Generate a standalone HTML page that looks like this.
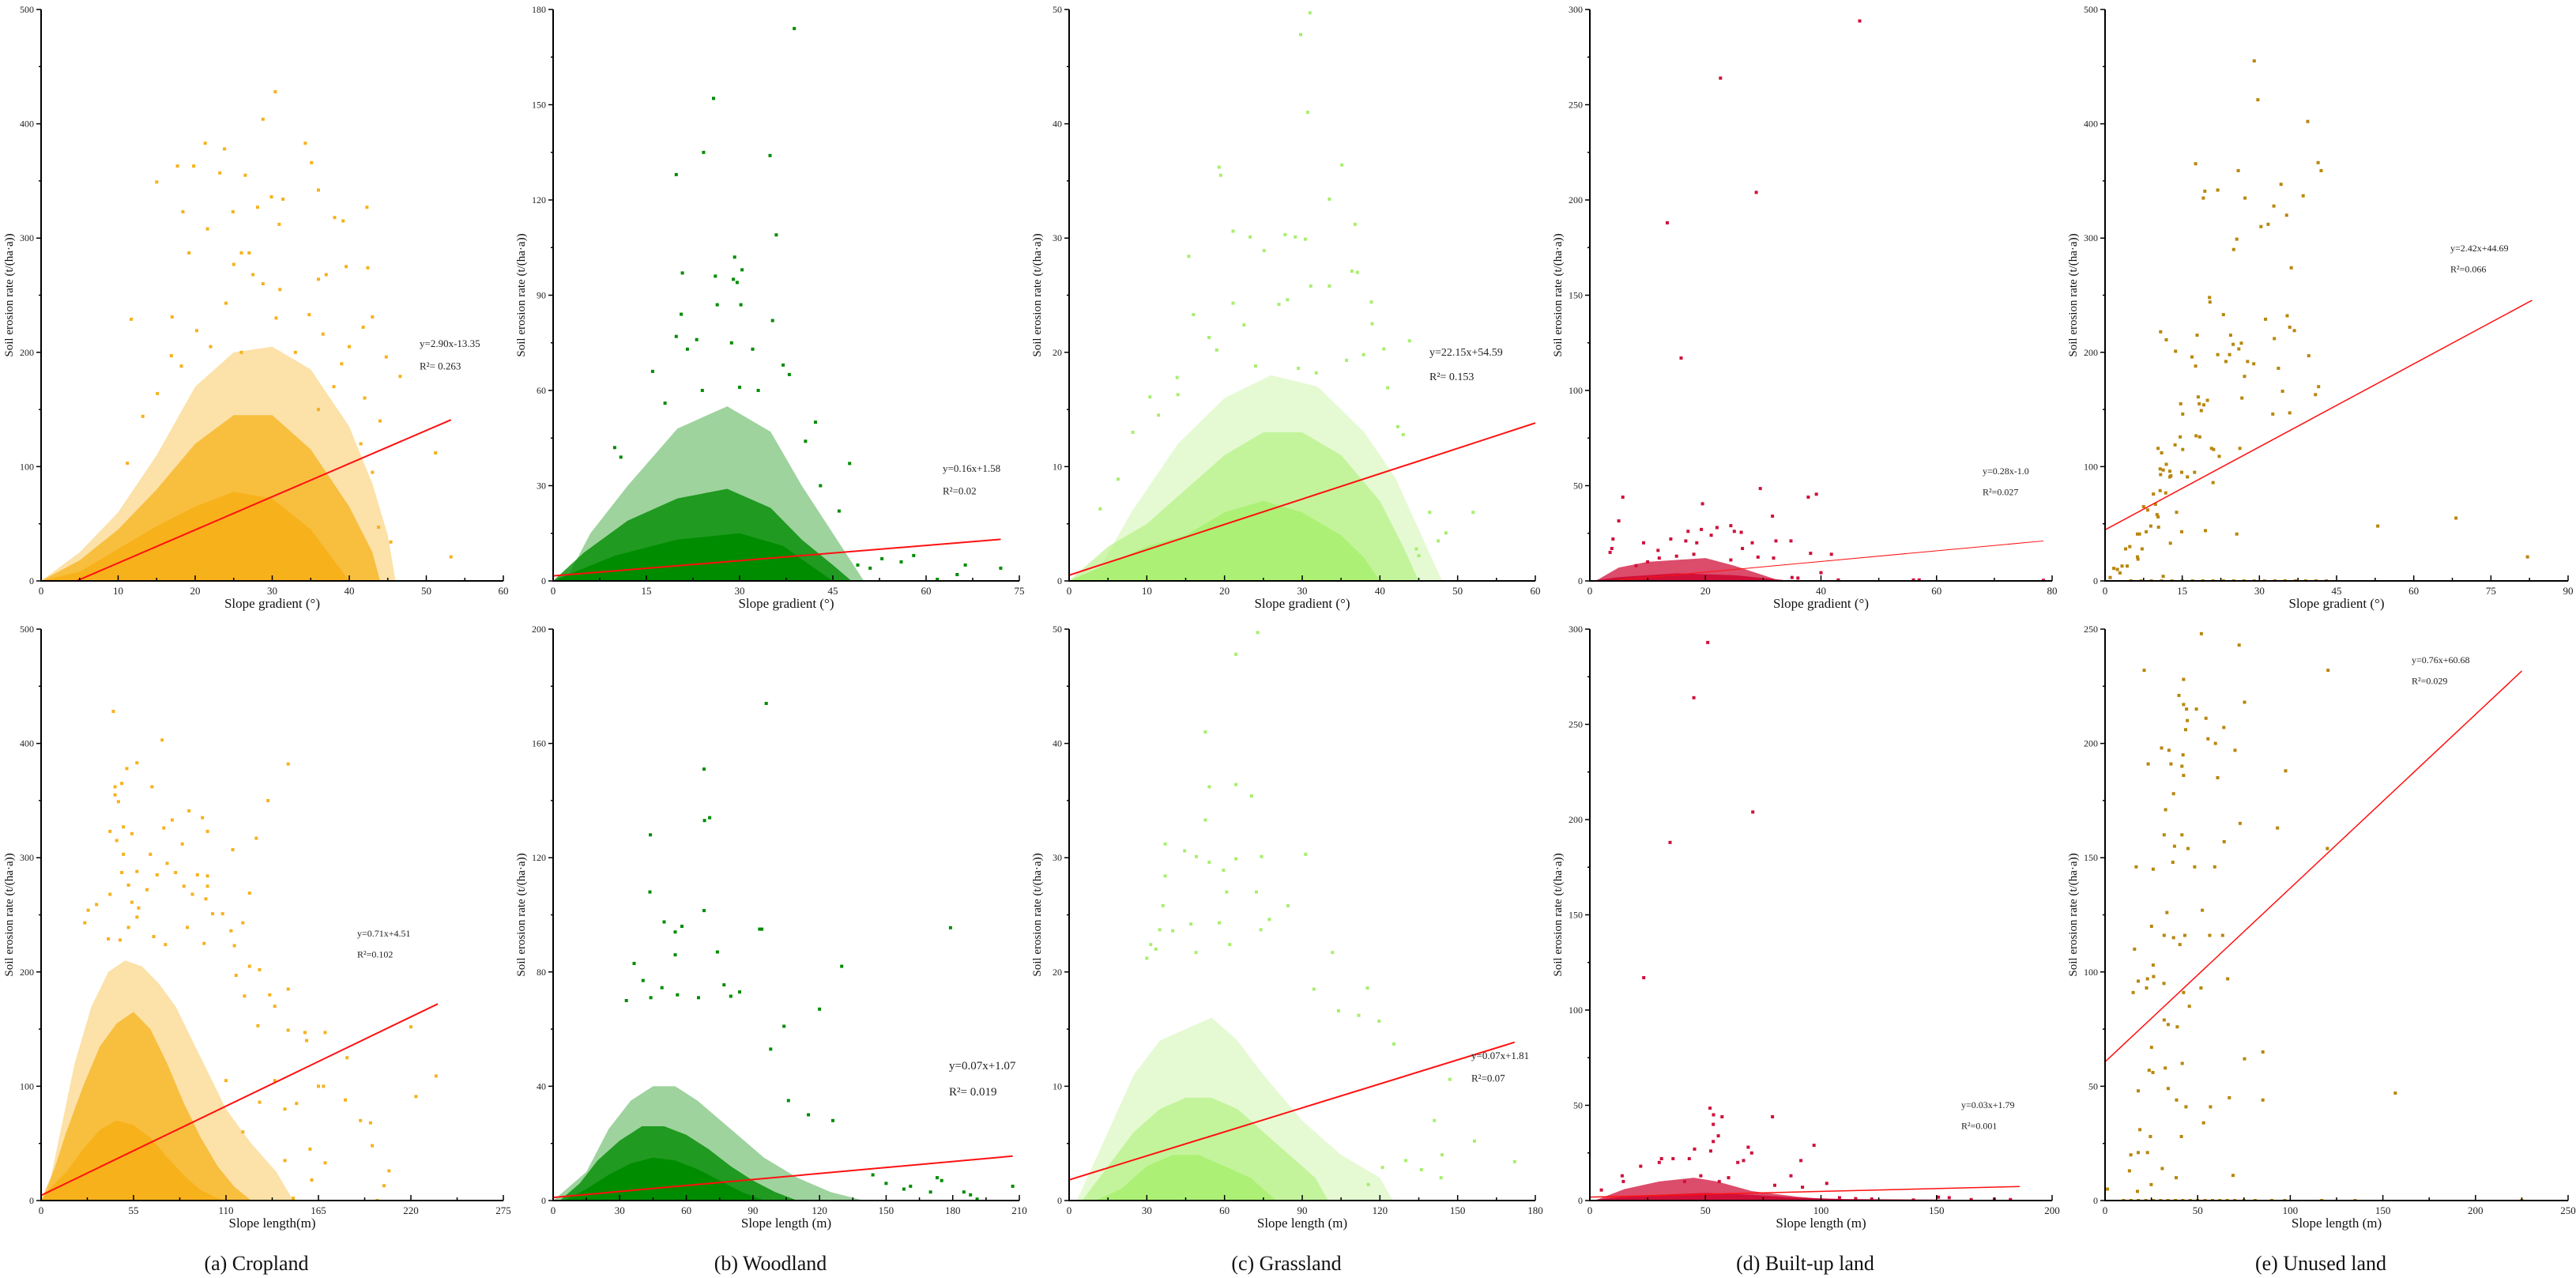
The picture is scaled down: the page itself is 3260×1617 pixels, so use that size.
<!DOCTYPE html>
<html><head><meta charset="utf-8"><style>
html,body{margin:0;padding:0;background:#fff;}
svg{display:block;font-family:"Liberation Serif",serif;}
</style></head><body>
<svg id="fig" width="3260" height="1617" viewBox="0 0 3260 1617" xmlns="http://www.w3.org/2000/svg"></svg>
<script>
// ---------- DATA (data units) ----------
const aTopPts=[30.4,428,28.8,404,21.3,383,34.3,383,23.8,378,17.7,363,19.8,363,35.1,366,15.0,349,23.2,357,26.5,355,36.0,342,29.9,336,31.4,334,42.3,327,18.4,323,24.9,323,28.1,327,38.1,318,39.2,315,21.6,308,30.9,312,19.2,287,26.0,287,27.0,287,25.0,277,39.6,275,42.4,274,36.0,264,37.0,268,28.8,260,11.7,229,17.0,231,43.0,231,46.6,179,44.8,196,51.2,112,53.2,21,45.4,34,43.8,47,20.2,219,24.0,243,30.5,230,34.8,233,36.6,216,41.8,222,16.9,197,18.2,188,11.2,103,13.2,144,15.1,164,40,205,39,190,33,200,26,200,22,205,31,255,27.5,268,42,160,44,140,41.5,120,43,95,38,170,36,150];
const aTopCore=[0,0,5,8,10,28,15,48,20,65,25,78,30,72,35,45,38,18,40,0];
const aTopMid=[0,0,5,18,10,45,15,80,20,120,25,145,30,145,35,115,40,65,43,25,44,0];
const aTopOuter=[0,0,5,25,10,60,15,110,20,170,25,200,30,205,35,185,40,135,43,85,45,40,46,0];
const aTopFit=[2.90,-13.35,4.6,53.2];
const aBotPts=[43,428,72,403,57,383,147,382,51,378,44,362,66,362,48,365,44,355,46,349,135,350,88,341,96,335,78,333,73,326,49,327,41,323,54,321,99,323,128,317,84,312,45,315,114,307,65,303,49,303,75,295,57,288,48,287,80,287,93,285,99,284,69,285,52,276,63,272,99,275,85,275,124,269,54,261,90,268,98,264,41,268,28,254,33,259,58,256,102,251,108,251,57,248,26,243,120,243,52,239,87,239,113,236,67,231,40,229,47,228,97,225,74,224,115,223,124,205,130,202,116,197,147,185,136,180,121,179,139,170,129,153,157,147,169,147,147,149,158,140,220,152,182,125,235,109,223,91,168,100,181,88,196,68,197,48,207,26,204,13,169,33,161,18,160,45,152,85,139,105,145,80,130,86,200,0,150,2,110,105,120,60,145,35,165,100,190,70];
const aBotCore=[0,0,5,10,15,25,25,45,35,62,45,70,55,66,65,55,75,38,85,22,95,9,105,2,110,0];
const aBotMid=[0,0,8,28,15,60,25,100,35,135,45,155,55,165,65,150,75,120,85,85,95,55,105,30,115,12,125,0];
const aBotOuter=[3,0,10,50,20,120,30,170,40,200,50,210,60,205,70,190,80,170,90,140,100,110,110,80,125,50,140,25,150,0];
const aBotFit=[0.71,4.51,0,236];
const bTopPts=[38.8,174,25.8,152,24.2,135,34.9,134,19.8,128,35.9,109,29.2,102,20.8,97,30.4,98,26.1,96,29.0,95,29.6,94,26.4,87,30.2,87,35.3,82,20.6,84,19.8,77,23.1,76,21.6,73,32.1,73,28.7,75,42.2,50,47.7,37,9.9,42,10.9,39,40.6,44,52.9,7,56,6,58,8,61.8,0.5,66.3,5,72,4,65,2,49,5,51,4,16,66,38,65,37,68,33,60,24,60,18,56,30,61,43,30,46,22];
const bTopCore=[0,0,5,4,10,8,20,13,30,15,37,11,42,4,45,0];
const bTopMid=[0,0,5,9,12,19,20,26,28,29,35,23,40,13,45,5,48,0];
const bTopOuter=[2,0,6,15,12,30,20,48,28,55,35,47,40,30,45,15,50,0];
const bTopFit=[0.16,1.58,0,72];
const bBotPts=[96,174,68,151,70.5,134,68.2,133,43.8,128,43.6,108,68,101.5,50,97.5,58,96,179,95.5,93,95,94,95,55,94,74,87,55,86,36.5,83,130,82,40.5,77,77,75.5,49,74.5,84,73,33,70,65.5,71,44,71,56,72,80,71.5,120,67,104,61,98,53,106,35,115,30,126,28,144,9,150,6,158,4,161,5,173,8,175,7,185,3,188,2,207,5,191,0.5,170,3];
const bBotCore=[5,0,15,4,25,9,35,13,45,15,55,14,65,11,75,7,85,3,95,0];
const bBotMid=[3,0,12,6,20,14,30,21,40,26,50,26,60,23,70,18,80,12,90,7,100,3,110,0];
const bBotOuter=[0,0,15,10,25,25,35,35,45,40,55,40,65,35,80,25,95,15,110,8,125,3,140,0];
const bBotFit=[0.07,1.07,0,207];
const cTopPts=[31.0,49.7,29.8,47.8,30.7,41,19.3,36.2,19.5,35.5,35.1,36.4,33.5,33.4,36.8,31.2,21.1,30.6,23.3,30.1,27.8,30.3,29.1,30.1,30.4,29.9,25.1,28.9,15.4,28.4,36.4,27.1,37.1,27,31.1,25.8,33.5,25.8,38.9,24.4,21.1,24.3,27,24.2,16,23.3,22.5,22.4,28.1,24.6,39,22.5,43.8,21,40.5,20.3,37.9,19.8,18,21.3,52,6,46.4,6,47.5,3.5,48.5,4.2,45,2.2,44.7,2.8,10.4,16.1,13.9,17.8,8.2,13,6.3,8.9,4,6.3,41,16.9,42.3,13.5,43,12.8,19,20.2,24,18.8,29.5,18.6,31.8,18.2,35.7,19.3,14,16.3,11.5,14.5];
const cTopCore=[0,0,5,1.5,10,3,15,4,20,6,25,7,30,6,35,4,38,2,40,0];
const cTopMid=[0,0,5,3,10,5,15,8,20,11,25,13,30,13,35,11,40,7,43,3,45,0];
const cTopOuter=[3,0,8,6,14,12,20,16,26,18,32,17,38,13,42,9,46,3,48,0];
const cTopFit=[0.222,0.5,0,60];
const cBotPts=[72.8,49.7,64.4,47.8,52.6,41,54.1,36.2,64.4,36.4,70.4,35.4,52.6,33.3,37.1,31.2,44.6,30.6,49.1,30.1,54.1,29.6,64.4,29.9,74.3,30.1,91.3,30.3,59.6,28.9,37.1,28.4,72.3,27,60.8,27,36.2,25.8,84.5,25.8,58,24.3,47,24.2,77.3,24.6,35,23.7,40,23.6,31.5,22.4,33.5,22,62,22.4,101.7,21.7,74,23.7,30.0,21.2,49,21.7,115.2,18.6,94.5,18.5,104,16.6,111.8,16.2,119.7,15.7,125.4,13.7,147,10.6,141,7,156.5,5.2,130,3.5,172,3.4,136,2.7,143.6,2,115.5,1.4,144,4,121,2.9];
const cBotCore=[10,0,20,1,30,3,40,4,50,4,60,3,70,2,80,0];
const cBotMid=[5,0,15,3,25,6,35,8,45,9,55,9,65,8,75,6,85,4,95,2,100,0];
const cBotOuter=[3,0,15,6,25,11,35,14,45,15,55,16,65,14,75,11,90,7,105,4,120,2,125,0];
const cBotFit=[0.07,1.81,0,172];
const dTopPts=[46.7,294,22.6,264,28.8,204,13.4,188,15.8,117,29.5,48.5,37.8,44,39.2,45.5,5.7,44,19.5,40.5,5,31.5,31.6,34,4,22,3.8,17,3.5,15,17,26,19.3,27,21,24,22,28,24.4,29,25,26,26.2,25.5,28.1,20,32.2,21,34.8,21,38.2,14.5,41.8,14,9.3,20,14,22,11.8,16,16.6,21,18.5,20,26.4,17,31.8,12,29.1,12.5,24.4,11,40,4.3,56,0.5,57,0.5,78.5,0.3,43,0.5,35,1.8,36,1.5,12,12,15,13,18,14,8,8,10,10];
const dTopCore=[0,0,5,2,15,4,25,3,30,1.5,35,0];
const dTopMid=[1,0,5,7,10,10,20,12,25,8,30,3,33,0];
const dTopFit=[0.28,-1.0,3.6,78.5];
const dBotPts=[51,293,45,264,34.7,188,70.5,204,23.3,117,52,48.5,53.5,45,57.2,44,79,44,53.4,40,55.6,34,53.4,31,97,29,68.5,28,45.3,27,52.3,26,70,25,30,20,22,18,36,22,43,22,31,22,66.5,21,64,20,91.3,21,87,13,14,13,14.5,10,102.5,9,5,5.5,41,10,48,13,56,10,60,12,80,8,92,7,150.8,1.8,155.5,1.5,175,0.7,182,0.5,165,0.5,140,0.3,122,0.8,108,1.5,115,1];
const dBotCore=[0,0,10,1.5,30,3,50,4,70,3,90,1.5,110,0.8,150,0.5,185,0];
const dBotMid=[2,0,15,6,30,10,45,12,55,10,70,5,90,2,110,0];
const dBotFit=[0.03,1.79,0,186];
const eTopPts=[29.0,455,29.7,421,39.4,402,17.6,365,41.4,366,42.0,359,25.9,359,34.2,347,19.4,341,21.9,342,19.1,335,27.2,335,38.5,337,32.8,328,35.3,320,30.3,310,31.7,312,25.6,299,25.0,290,36.2,274,20.3,248,20.4,244,23.0,233,35.4,232,31.2,229,35.9,222,36.8,219,10.8,218,17.9,215,24.4,215,11.9,211,32.9,212,26.5,208,24.9,207,26.0,203,13.7,201,16.9,196,24.2,198,21.9,198,39.6,197,27.7,192,23.5,192,28.9,190,17.6,188,33.7,186,27.1,179,41.5,170,18.1,161,26.6,160,40.9,163,34.5,166,14.7,155,18.3,155,19.2,154,19.9,158,18.7,149,15.1,146,32.6,146,35.9,147,17.7,127,18.4,126,14.6,126,13.6,119,20.7,116,21.1,115,26.2,116,10.3,116,15.1,115,11.0,112,22.2,109,11.9,102,10.7,98,11.3,97,12.6,96,14.9,95,17.4,95,10.8,93,12.8,92,12.6,91,16.0,91,21.0,86,9.4,76,10.7,79,11.8,77,9.8,67,7.5,65,8.3,62,10.1,58,10.3,56,13.9,60,10.4,47,8.9,48,14.9,43,19.5,44,25.6,41,6.3,41,6.7,41,8.0,43,12.7,33,4.8,30,4.0,28,7.2,28,6.3,21,6.4,19,3.3,13,4.3,13,1.7,11,2.4,10,2.9,7,1.0,3,11.3,4,53.0,48,68.2,55,82.1,21,5,0,7,0,9,0,11,0,13,0,15,0,17,0,19,0,21,0,23,0,25,0,27,0,29,0,31,0,33,0,35,0,37,0,39,0,41,0,43,0];
const eTopFit=[2.42,44.69,0,83];
const eBotPts=[52,248,72.4,243,21.1,232,120.4,232,42.4,228,39.9,221,75.3,218,42.4,217,44.0,215,49.3,215,54.5,211,44.4,210,43.5,206,64.1,207,55.6,202,59.6,200,30.5,198,34.5,197,70.2,197,42.1,195,23.3,191,35.6,191,41.5,190,97.5,188,42.4,186,60.8,185,37.0,178,32.7,171,72.9,165,93.1,163,31.9,160,41.5,160,64.3,157,37.5,155,44.8,154,120,154,36.6,148,48.4,146,16.8,146,59.2,146,26.0,145,52.5,127,33.4,126,25.1,120,31.9,116,43.1,116,56.5,116,63.5,116,37.0,115,40.4,112,15.9,110,26.0,103,26.2,98,17.9,96,22.9,97,66.2,97,31.8,95,22.4,93,51.8,93,15.2,91,42.4,91,45.5,85,31.9,79,34.1,77,39.0,76,25.1,67,85.2,65,75.3,62,41.7,60,32.5,58,23.8,57,25.8,56,17.9,48,34.1,49,156.7,47,67.1,45,85.2,44,38.6,44,43.7,41,56.9,41,53.2,34,18.8,31,24.5,28,41.2,28,17.9,21,22.9,21,13.9,20,13.2,13,30.9,14,38.4,10,69.1,11,24.9,7,17.5,4,1.3,5,10,0,14,0,18,0,22,0,26,0,30,0,34,0,38,0,42,0,46,0,50,0,54,0,58,0,62,0,66,0,70,0,75,0,81,0,90,0,97,0,117,0,135,0,225,0];
const eBotFit=[0.76,60.68,0,225];

const aTopTicks=[60,10,500,100], aBotTicks=[275,55,500,100];
const bTopTicks=[75,15,180,30], bBotTicks=[210,30,200,40];
const cTopTicks=[60,10,50,10], cBotTicks=[180,30,50,10];
const dTopTicks=[80,20,300,50], dBotTicks=[200,50,300,50];
const eTopTicks=[90,15,500,100], eBotTicks=[250,50,250,50];
const eqLabels=["y=2.90x-13.35","R²= 0.263","y=0.71x+4.51","R²=0.102","y=0.16x+1.58","R²=0.02","y=0.07x+1.07","R²= 0.019","y=22.15x+54.59","R²= 0.153","y=0.07x+1.81","R²=0.07","y=0.28x-1.0","R²=0.027","y=0.03x+1.79","R²=0.001","y=2.42x+44.69","R²=0.066","y=0.76x+60.68","R²=0.029"];
const captions=["(a) Cropland","(b) Woodland","(c) Grassland","(d) Built-up land","(e) Unused land"];

const NS="http://www.w3.org/2000/svg";
const svg=document.getElementById('fig');
function mk(tag,attrs,parent){const e=document.createElementNS(NS,tag);for(const k in attrs)e.setAttribute(k,attrs[k]);(parent||svg).appendChild(e);return e;}
const cols=[[52,637],[700,1290],[1353,1943],[2012,2597],[2664,3250]];
const rows=[[12,735],[796,1519]];
const colors=["#F7B11B","#008C00","#A8EE6E","#D0103A","#B8860B"];
const panels=[
 {id:"a-top",c:0,r:0,t:aTopTicks,pts:aTopPts,layers:[aTopOuter,aTopMid,aTopCore],ops:[0.38,0.75,1],fit:aTopFit,eq:0,tx:531,ty:439,fs:13,xt:"Slope gradient (°)",lw:2},
 {id:"a-bottom",c:0,r:1,t:aBotTicks,pts:aBotPts,layers:[aBotOuter,aBotMid,aBotCore],ops:[0.38,0.75,1],fit:aBotFit,eq:2,tx:452,ty:1185,fs:12,xt:"Slope length(m)",lw:2},
 {id:"b-top",c:1,r:0,t:bTopTicks,pts:bTopPts,layers:[bTopOuter,bTopMid,bTopCore],ops:[0.38,0.8,1],fit:bTopFit,eq:4,tx:1193,ty:597,fs:13,xt:"Slope gradient (°)",lw:2},
 {id:"b-bottom",c:1,r:1,t:bBotTicks,pts:bBotPts,layers:[bBotOuter,bBotMid,bBotCore],ops:[0.38,0.8,1],fit:bBotFit,eq:6,tx:1201,ty:1353,fs:15,xt:"Slope length (m)",lw:2},
 {id:"c-top",c:2,r:0,t:cTopTicks,pts:cTopPts,layers:[cTopOuter,cTopMid,cTopCore],ops:[0.3,0.55,0.85],fit:cTopFit,eq:8,tx:1809,ty:450,fs:14,xt:"Slope gradient (°)",lw:2},
 {id:"c-bottom",c:2,r:1,t:cBotTicks,pts:cBotPts,layers:[cBotOuter,cBotMid,cBotCore],ops:[0.3,0.55,0.85],fit:cBotFit,eq:10,tx:1862,ty:1340,fs:13,xt:"Slope length (m)",lw:2},
 {id:"d-top",c:3,r:0,t:dTopTicks,pts:dTopPts,layers:[dTopMid,dTopCore],ops:[0.75,1],fit:dTopFit,eq:12,tx:2509,ty:600,fs:12,xt:"Slope gradient (°)",lw:1},
 {id:"d-bottom",c:3,r:1,t:dBotTicks,pts:dBotPts,layers:[dBotMid,dBotCore],ops:[0.75,1],fit:dBotFit,eq:14,tx:2482,ty:1402,fs:12,xt:"Slope length (m)",lw:1.5},
 {id:"e-top",c:4,r:0,t:eTopTicks,pts:eTopPts,layers:[],ops:[],fit:eTopFit,eq:16,tx:3101,ty:318,fs:12,xt:"Slope gradient (°)",lw:1.5},
 {id:"e-bottom",c:4,r:1,t:eBotTicks,pts:eBotPts,layers:[],ops:[],fit:eBotFit,eq:18,tx:3052,ty:839,fs:12,xt:"Slope length (m)",lw:1.5}
];

panels.forEach(p=>{
  const [x0,x1]=cols[p.c], [y1,y0]=rows[p.r];
  const [xmax,xstep,ymax,ystep]=p.t;
  const sx=v=>x0+v/xmax*(x1-x0), sy=v=>y0-v/ymax*(y0-y1);
  const col=colors[p.c];
  const g=mk('g',{});
  
  
  const cp=mk('clipPath',{id:'clip-'+p.id},g);
  mk('rect',{x:x0,y:y1-4,width:x1-x0+4,height:y0-y1+4},cp);
  p.layers.forEach((L,i)=>{
    let s=[];for(let k=0;k<L.length;k+=2)s.push(sx(L[k]).toFixed(1)+','+sy(L[k+1]).toFixed(1));
    const poly=mk('polygon',{points:s.join(' '),fill:col,'fill-opacity':p.ops[i],'clip-path':'url(#clip-'+p.id+')'},g);
    
    
  });
  const pg=mk('g',{fill:col,'clip-path':'url(#clip-'+p.id+')'},g);
  
  
  for(let k=0;k<p.pts.length;k+=2){
    const r=mk('rect',{x:(sx(p.pts[k])-2).toFixed(1),y:(sy(p.pts[k+1])-2).toFixed(1),width:4,height:4},pg);
    
    
  }
  const [m,b,xs,xe]=p.fit;
  const ln=mk('line',{x1:sx(xs),y1:sy(m*xs+b),x2:sx(xe),y2:sy(m*xe+b),stroke:'#FF1010','stroke-width':p.lw},g);
  
  
  const ax=mk('path',{d:`M${x0},${y1} V${y0} H${x1}`,fill:'none',stroke:'#000','stroke-width':2},g);
  
  
  let td='';
  for(let v=0;v<=xmax+1e-9;v+=xstep/2){const X=sx(v);const major=Math.abs(v/xstep-Math.round(v/xstep))<1e-6;td+=`M${X},${y0} V${y0-(major?7:4)} `;}
  for(let v=0;v<=ymax+1e-9;v+=ystep/2){const Y=sy(v);const major=Math.abs(v/ystep-Math.round(v/ystep))<1e-6;td+=`M${x0},${Y} H${x0-(major?6:3)} `;}
  mk('path',{d:td,stroke:'#000','stroke-width':1.5,fill:'none'},g);
  for(let v=0;v<=xmax+1e-9;v+=xstep){
    const t=mk('text',{x:sx(v),y:y0+17,'font-size':13,'text-anchor':'middle',fill:'#222'},g);t.textContent=String(Math.round(v));
    
  }
  for(let v=0;v<=ymax+1e-9;v+=ystep){
    const t=mk('text',{x:x0-9,y:sy(v)+4,'font-size':12,'text-anchor':'end',fill:'#222'},g);t.textContent=String(Math.round(v));
    
  }
  const xt=mk('text',{x:(x0+x1)/2,y:y0+34,'font-size':17,'text-anchor':'middle',fill:'#111'},g);xt.textContent=p.xt;
  
  const ym=(y0+y1)/2;
  const yt=mk('text',{x:x0-36,y:ym,'font-size':15,'text-anchor':'middle',fill:'#111',transform:`rotate(-90 ${x0-36} ${ym})`},g);yt.textContent="Soil erosion rate (t/(ha·a))";
  
  const e1=mk('text',{x:p.tx,y:p.ty,'font-size':p.fs,fill:'#222'},g);e1.textContent=eqLabels[p.eq];
  
  const e2=mk('text',{x:p.tx,y:p.ty+p.fs*2.2,'font-size':p.fs,fill:'#222'},g);e2.textContent=eqLabels[p.eq+1];
  
});
captions.forEach((c,i)=>{
  const [x0,x1]=cols[i];
  const t=mk('text',{x:(x0+x1)/2-20,y:1607,'font-size':26,'text-anchor':'middle',fill:'#111'});
  t.textContent=c;
  
  
});
</script>
</body></html>
